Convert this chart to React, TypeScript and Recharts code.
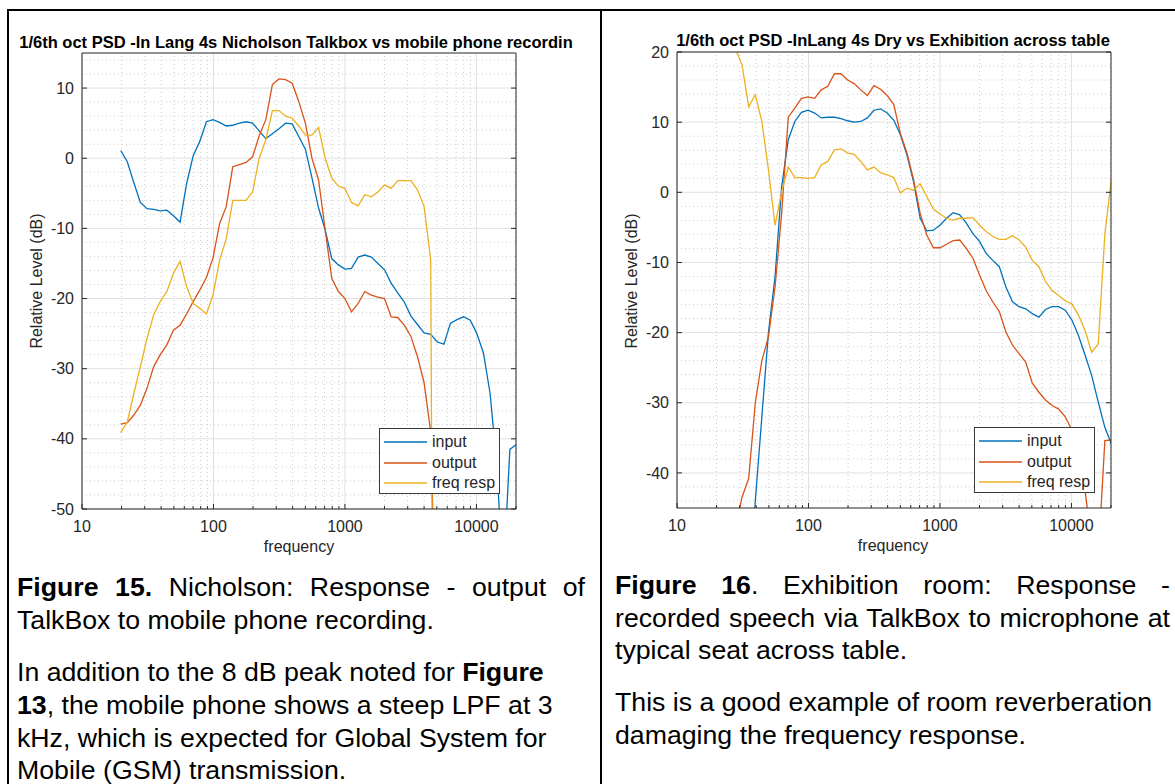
import React from "react";
import { LineChart, Line, XAxis, YAxis, ReferenceLine, Legend } from "recharts";

// 1/6-octave band centres (Hz)
const FREQ = [
  19.7, 22.1, 24.8, 27.8, 31.2, 35.1, 39.4, 44.2, 49.6, 55.7, 62.5, 70.2, 78.7, 88.4, 99.2, 111.4, 125,
  140.3, 157.5, 176.8, 198.4, 222.7, 250, 280.6, 315, 353.6, 396.9, 445.4, 500, 561.2, 630, 707.1, 793.7,
  890.9, 1000, 1122, 1260, 1414, 1587, 1782, 2000, 2245, 2520, 2828, 3175, 3564, 4000, 4490, 5040, 5657,
  6350, 7127, 8000, 8980, 10079, 11314, 12699, 14254, 16000, 17959, 20159,
];

// Nicholson: TalkBox vs mobile phone recording (dB)
const NICH_INPUT = [
  1.1, -0.5, -3.5, -6.3, -7.2, -7.3, -7.5, -7.4, -8.2, -9.1, -3.6, 0.4, 2.4, 5.2, 5.5, 5.1, 4.6, 4.7, 5.0,
  5.2, 5.0, 3.9, 2.8, 3.5, 4.2, 5.0, 4.9, 3.1, 1.3, -2.8, -7.1, -10.2, -14.3, -15.2, -15.8, -15.7, -14.1,
  -13.8, -14.1, -15.0, -15.9, -17.8, -19.2, -20.5, -22.5, -23.7, -24.9, -25.1, -26.2, -26.5, -23.5, -23.0,
  -22.6, -23.1, -25.0, -27.8, -33.5, -43.5, -60, -41.5, -40.8,
];
const NICH_OUTPUT = [
  -37.9, -37.7, -36.6, -35.2, -32.8, -29.7, -28.0, -26.6, -24.5, -23.8, -22.2, -20.4, -18.8, -17.0, -14.2,
  -9.3, -6.9, -1.2, -0.9, -0.6, 0.2, 3.2, 5.5, 10.5, 11.3, 11.2, 10.7, 8.1, 5.0, 0.0, -3.1, -10.2, -17.1,
  -19.0, -20.0, -21.9, -20.7, -19.0, -19.5, -19.8, -20.0, -22.6, -22.7, -23.8, -25.4, -28.3, -32.0, -39.0,
  -75, null, null, null, null, null, null, null, null, null, null, null, null,
];
const NICH_RESP = [
  -39.1, -37.6, -33.5, -29.7, -25.7, -22.3, -20.4, -19.0, -16.4, -14.7, -18.3, -20.7, -21.4, -22.2, -19.5,
  -14.5, -11.5, -6.0, -6.0, -6.0, -4.8, 0.0, 2.6, 6.8, 6.8, 6.0, 5.7, 4.6, 3.3, 3.3, 4.4, 0.0, -2.8, -4.0,
  -4.3, -6.3, -6.8, -5.2, -5.5, -4.8, -3.8, -4.3, -3.2, -3.2, -3.2, -4.5, -6.9, -14.5, -200, null, null,
  null, null, null, null, null, null, null, null, null, null,
];

// Exhibition room: dry vs across table (dB)
const EXH_INPUT = [
  null, null, null, null, null, -60, -44, -32, -20, -12, 0.8, 7.5, 10.1, 11.4, 11.7, 11.3, 10.6, 10.7, 10.7,
  10.5, 10.2, 10.0, 10.1, 10.6, 11.7, 11.9, 11.3, 10.3, 8.2, 5.3, 1.5, -3.7, -5.5, -5.4, -4.7, -3.7, -2.9,
  -3.2, -4.4, -5.9, -7.0, -8.7, -9.7, -10.6, -13.5, -15.6, -16.3, -16.6, -17.3, -17.8, -16.7, -16.3, -16.3,
  -16.8, -18.2, -20.4, -23.2, -26.1, -29.9, -33.5, -35.9,
];
const EXH_OUTPUT = [
  null, null, -60, -48, -43.5, -40.8, -30, -24, -20.6, -13.5, -3, 10.7, 12, 13.4, 13.6, 13.4, 14.6, 15.1,
  16.9, 16.9, 16, 15.5, 14.6, 13.8, 15.2, 14.7, 13.8, 12.5, 8.4, 5.6, 1.8, -3, -6.1, -7.9, -7.9, -7.4, -6.9,
  -6.8, -8, -9.4, -11.8, -14, -15.6, -17, -19.9, -21.8, -23, -24.2, -27.2, -28.5, -29.6, -30.4, -30.9, -32,
  -33.9, -36.8, -42.5, -50, -52, -35.4, -35.3,
];
const EXH_RESP = [
  20.5, 21.5, 22, 20.5, 18.2, 12.2, 13.9, 10.1, 3.2, -4.7, 0.1, 3.6, 2.1, 2.1, 2.0, 2.1, 3.9, 4.4, 6.05, 6.2,
  5.6, 5.4, 4.4, 3.2, 3.6, 2.8, 2.5, 2.1, -0.1, 0.6, 0.3, 1.2, -0.6, -2.4, -3.1, -3.7, -3.95, -3.7, -3.7,
  -3.6, -4.7, -5.6, -6.3, -6.7, -6.7, -6.2, -6.8, -7.8, -9.7, -10.6, -12.7, -14, -14.7, -15.5, -15.9, -17.5,
  -19.7, -22.8, -21.6, -6, 2,
];

const SERIES_KEYS = ["input", "output", "resp"];
const SERIES_NAMES = ["input", "output", "freq resp"];
const SERIES_COLORS = ["#0072BD", "#D95319", "#EDB120"];

const X_DECADES = [10, 100, 1000, 10000];
const X_MINOR = [
  20, 30, 40, 50, 60, 70, 80, 90, 200, 300, 400, 500, 600, 700, 800, 900, 2000, 3000, 4000, 5000, 6000,
  7000, 8000, 9000, 20000,
];

const NICH_Y_MAJOR = [-50, -40, -30, -20, -10, 0, 10];
const NICH_Y_MINOR = [
  -48, -46, -44, -42, -38, -36, -34, -32, -28, -26, -24, -22, -18, -16, -14, -12, -8, -6, -4, -2, 2, 4, 6, 8,
  12, 14,
];
const EXH_Y_MAJOR = [-40, -30, -20, -10, 0, 10, 20];
const EXH_Y_MINOR = [
  -44, -42, -38, -36, -34, -32, -28, -26, -24, -22, -18, -16, -14, -12, -8, -6, -4, -2, 2, 4, 6, 8, 12, 14,
  16, 18,
];

const AXIS = "#262626";
const GRID_MAJOR = "#e1e1e1";
const GRID_MINOR = "#cdcdcd";
const FONT = "'Liberation Sans', Arial, Helvetica, sans-serif";

const PANEL_W = 570;
const PANEL_H = 560;

type Row = { f: number; input: number | null; output: number | null; resp: number | null };

const buildRows = (a: (number | null)[], b: (number | null)[], c: (number | null)[]): Row[] =>
  FREQ.map((f, i) => ({ f, input: a[i], output: b[i], resp: c[i] }));

const nichRows = buildRows(NICH_INPUT, NICH_OUTPUT, NICH_RESP);
const exhRows = buildRows(EXH_INPUT, EXH_OUTPUT, EXH_RESP);

type TickProps = { x?: number; y?: number; payload?: { value: number } };

const tickText = { fontSize: 16, fontFamily: FONT, fill: AXIS };

// ticks point inward, MATLAB-style box axes
const BottomTick = ({ x = 0, y = 0, payload }: TickProps) => {
  const v = payload?.value ?? 0;
  const major = X_DECADES.includes(v);
  return (
    <g>
      <line x1={x} x2={x} y1={y} y2={y - (major ? 5 : 3)} stroke={AXIS} />
      {major && (
        <text x={x} y={y + 17} dy="0.35em" textAnchor="middle" {...tickText}>
          {v}
        </text>
      )}
    </g>
  );
};

const TopTick = ({ x = 0, y = 0, payload }: TickProps) => {
  const major = X_DECADES.includes(payload?.value ?? 0);
  return <line x1={x} x2={x} y1={y} y2={y + (major ? 5 : 3)} stroke={AXIS} />;
};

const LeftTick = ({ x = 0, y = 0, payload }: TickProps) => (
  <g>
    <line x1={x} x2={x + 5} y1={y} y2={y} stroke={AXIS} />
    <text x={x - 8} y={y} dy="0.35em" textAnchor="end" {...tickText}>
      {payload?.value}
    </text>
  </g>
);

const RightTick = ({ x = 0, y = 0 }: TickProps) => <line x1={x} x2={x - 5} y1={y} y2={y} stroke={AXIS} />;

const PsdLegend = () => (
  <div
    style={{
      width: 121,
      height: 66,
      boxSizing: "border-box",
      border: "1px solid #3a3a3a",
      background: "#fff",
      padding: "3px 0 0 4px",
    }}
  >
    {SERIES_NAMES.map((name, i) => (
      <div key={name} style={{ height: 20.5, display: "flex", alignItems: "center" }}>
        <svg width={43} height={4} style={{ display: "block" }}>
          <line x1={0} x2={43} y1={2} y2={2} stroke={SERIES_COLORS[i]} strokeWidth={1.3} />
        </svg>
        <span style={{ marginLeft: 5, fontSize: 16, fontFamily: FONT, color: AXIS, lineHeight: "20px" }}>
          {name}
        </span>
      </div>
    ))}
  </div>
);

type PanelProps = {
  left: number;
  top: number;
  rows: Row[];
  yDomain: [number, number];
  yMajor: number[];
  yMinor: number[];
};

function PsdPanel({ left, top, rows, yDomain, yMajor, yMinor }: PanelProps) {
  return (
    <div style={{ position: "absolute", left, top }}>
      <LineChart width={PANEL_W} height={PANEL_H} data={rows} margin={{ top: 48, right: 49, bottom: 21, left: 22 }}>
        {X_MINOR.map((v) => (
          <ReferenceLine key={"xm" + v} x={v} stroke={GRID_MINOR} strokeDasharray="1 3" />
        ))}
        {yMinor.map((v) => (
          <ReferenceLine key={"ym" + v} y={v} stroke={GRID_MINOR} strokeDasharray="1 3" />
        ))}
        {X_DECADES.map((v) => (
          <ReferenceLine key={"xM" + v} x={v} stroke={GRID_MAJOR} />
        ))}
        {yMajor.map((v) => (
          <ReferenceLine key={"yM" + v} y={v} stroke={GRID_MAJOR} />
        ))}
        <XAxis
          dataKey="f"
          type="number"
          scale="log"
          domain={[10, 20000]}
          allowDataOverflow
          ticks={[...X_DECADES, ...X_MINOR]}
          interval={0}
          tickSize={0}
          tickMargin={0}
          tickLine={false}
          tick={BottomTick}
          axisLine={{ stroke: AXIS }}
          height={30}
        />
        <XAxis
          xAxisId="top"
          orientation="top"
          type="number"
          scale="log"
          domain={[10, 20000]}
          allowDataOverflow
          ticks={[...X_DECADES, ...X_MINOR]}
          interval={0}
          tickSize={0}
          tickMargin={0}
          tickLine={false}
          tick={TopTick}
          axisLine={{ stroke: AXIS }}
          height={5}
        />
        <YAxis
          type="number"
          domain={yDomain}
          allowDataOverflow
          ticks={yMajor}
          interval={0}
          tickSize={0}
          tickMargin={0}
          tickLine={false}
          tick={LeftTick}
          axisLine={{ stroke: AXIS }}
          width={60}
        />
        <YAxis
          yAxisId="r"
          orientation="right"
          type="number"
          domain={yDomain}
          allowDataOverflow
          ticks={yMajor}
          interval={0}
          tickSize={0}
          tickMargin={0}
          tickLine={false}
          tick={RightTick}
          axisLine={{ stroke: AXIS }}
          width={5}
        />
        {SERIES_KEYS.map((k, i) => (
          <Line
            key={k}
            dataKey={k}
            name={SERIES_NAMES[i]}
            stroke={SERIES_COLORS[i]}
            strokeWidth={1.3}
            dot={false}
            isAnimationActive={false}
          />
        ))}
        <Legend
          layout="vertical"
          align="center"
          verticalAlign="middle"
          content={PsdLegend}
          wrapperStyle={{ left: 379, top: 428, width: 121, height: 66 }}
        />
      </LineChart>
    </div>
  );
}

const textBase: React.CSSProperties = {
  position: "absolute",
  fontFamily: FONT,
  color: AXIS,
  whiteSpace: "nowrap",
};

const Title = ({ cx, cy, children }: { cx: number; cy: number; children: React.ReactNode }) => (
  <div style={{ ...textBase, left: cx - 300, width: 600, top: cy - 10, lineHeight: "20px", textAlign: "center", fontSize: 16.5, fontWeight: "bold", color: "#000" }}>
    {children}
  </div>
);

const AxisLabel = ({ cx, cy, rotate, children }: { cx: number; cy: number; rotate?: boolean; children: React.ReactNode }) => (
  <div
    style={{
      ...textBase,
      left: cx - 150,
      width: 300,
      top: cy - 10,
      lineHeight: "20px",
      textAlign: "center",
      fontSize: 16,
      transform: rotate ? "rotate(-90deg)" : undefined,
    }}
  >
    {children}
  </div>
);

const CAPTION_SIZE = 26.7;

const CaptionLine = ({
  x,
  cy,
  width,
  justify,
  children,
}: {
  x: number;
  cy: number;
  width?: number;
  justify?: boolean;
  children: React.ReactNode;
}) => (
  <div
    style={{
      position: "absolute",
      left: x,
      top: cy - 16,
      width,
      height: 32,
      lineHeight: "32px",
      fontFamily: FONT,
      fontSize: CAPTION_SIZE,
      color: "#000",
      whiteSpace: "nowrap",
      textAlign: justify ? "justify" : "left",
      textAlignLast: justify ? "justify" : "left",
    }}
  >
    {children}
  </div>
);

export default function App() {
  return (
    <div
      style={{
        position: "absolute",
        left: 0,
        top: 0,
        width: 1175,
        height: 784,
        overflow: "hidden",
        background: "#fff",
      }}
    >
      {/* table frame */}
      <div style={{ position: "absolute", left: 7, top: 9, width: 1175, height: 2, background: "#000" }} />
      <div style={{ position: "absolute", left: 7, top: 9, width: 2, height: 784, background: "#000" }} />
      <div style={{ position: "absolute", left: 600, top: 9, width: 2, height: 784, background: "#000" }} />

      <PsdPanel left={0} top={0} rows={nichRows} yDomain={[-50, 15]} yMajor={NICH_Y_MAJOR} yMinor={NICH_Y_MINOR} />
      <PsdPanel left={595} top={-1} rows={exhRows} yDomain={[-45, 20]} yMajor={EXH_Y_MAJOR} yMinor={EXH_Y_MINOR} />

      <Title cx={296} cy={42}>1/6th oct PSD -In Lang 4s Nicholson Talkbox vs mobile phone recordin</Title>
      <Title cx={893} cy={40}>1/6th oct PSD -InLang 4s Dry vs Exhibition across table</Title>

      <AxisLabel cx={37} cy={281} rotate>
        Relative Level (dB)
      </AxisLabel>
      <AxisLabel cx={632} cy={281} rotate>
        Relative Level (dB)
      </AxisLabel>
      <AxisLabel cx={299} cy={547}>frequency</AxisLabel>
      <AxisLabel cx={893} cy={546}>frequency</AxisLabel>

      <CaptionLine x={17} cy={587} width={568} justify>
        <b>Figure 15.</b> Nicholson: Response - output of
      </CaptionLine>
      <CaptionLine x={17} cy={620}>TalkBox to mobile phone recording.</CaptionLine>
      <CaptionLine x={17} cy={672}>
        In addition to the 8 dB peak noted for <b>Figure</b>
      </CaptionLine>
      <CaptionLine x={17} cy={705}>
        <b>13</b>, the mobile phone shows a steep LPF at 3
      </CaptionLine>
      <CaptionLine x={17} cy={738}>kHz, which is expected for Global System for</CaptionLine>
      <CaptionLine x={17} cy={770}>Mobile (GSM) transmission.</CaptionLine>

      <CaptionLine x={615} cy={585} width={555} justify>
        <b>Figure 16</b>. Exhibition room: Response -
      </CaptionLine>
      <CaptionLine x={615} cy={618} width={555} justify>
        recorded speech via TalkBox to microphone at
      </CaptionLine>
      <CaptionLine x={615} cy={650}>typical seat across table.</CaptionLine>
      <CaptionLine x={615} cy={702}>This is a good example of room reverberation</CaptionLine>
      <CaptionLine x={615} cy={735}>damaging the frequency response.</CaptionLine>
    </div>
  );
}
